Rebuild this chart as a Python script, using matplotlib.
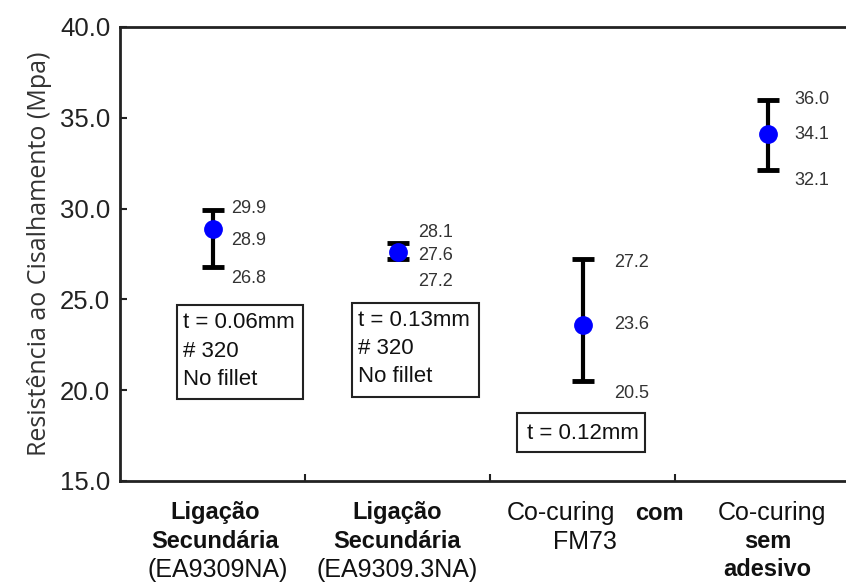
import matplotlib
matplotlib.use('Agg')
import matplotlib.pyplot as plt
from matplotlib.patches import Rectangle

# data
means = [28.9, 27.6, 23.6, 34.1]
upper = [29.9, 28.1, 27.2, 36.0]
lower = [26.8, 27.2, 20.5, 32.1]
y_ticks = [15.0, 20.0, 25.0, 30.0, 35.0, 40.0]
box_texts = ['t = 0.06mm\n# 320\nNo fillet',
             't = 0.13mm\n# 320\nNo fillet',
             't = 0.12mm']
category_lines = [
    [('Ligação', 'bold', 3), ('Secundária', 'bold', 3), ('(EA9309NA)', 'normal', 5)],
    [('Ligação', 'bold', 0), ('Secundária', 'bold', 0), ('(EA9309.3NA)', 'normal', 0)],
    [('Co-curing', 'normal', -22), ('FM73', 'normal', 2), None],
    [('Co-curing', 'normal', 4), ('sem', 'bold', 0), ('adesivo', 'bold', 0)],
]
y_label = 'Resistência ao Cisalhamento (Mpa)'

# layout (pixel offsets of the value labels: x, then top/mid/low y)
label_dx = [19, 21, 32, 27]
label_dy = [(2, -12, -12), (11, -3, -22), (-3, 0, -12), (0, 0, -10)]
line_dy = [-32, -61, -89]
boxes = [(-0.192, 19.50, 0.681, 5.18), (0.754, 19.61, 0.687, 5.18),
         (1.646, 16.58, 0.692, 2.15)]
text_pos = [(-0.159, 22.15, 'left'), (0.786, 22.31, 'left'), (2.0, 17.63, 'center')]

plt.rcParams['font.family'] = ['Liberation Sans', 'DejaVu Sans']

fig = plt.figure(figsize=(8.46, 5.83), dpi=100)
ax = fig.add_axes([120 / 846, 102 / 583, 726 / 846, 454 / 583])

x = list(range(len(means)))
yerr = [[m - lo for m, lo in zip(means, lower)], [u - m for m, u in zip(means, upper)]]
ax.errorbar(x, means, yerr=yerr, fmt='o', color='blue', ms=12.5, ecolor='black',
            elinewidth=3, capsize=8, capthick=3.5, zorder=3)

for i in x:
    vals = [upper[i], means[i], lower[i]]
    for v, dy in zip(vals, label_dy[i]):
        ax.annotate('%.1f' % v, xy=(i, v), xytext=(label_dx[i], dy),
                    textcoords='offset pixels', ha='left', va='center',
                    fontsize=13, color='#333333')

for (bx, by, bw, bh) in boxes:
    ax.add_patch(Rectangle((bx, by), bw, bh, fill=False, edgecolor='#222222', lw=1.5))
for txt, (tx, ty, ha) in zip(box_texts, text_pos):
    ax.text(tx, ty, txt, ha=ha, va='center', fontsize=16, linespacing=1.45,
            color='#111111')

ax.set_xlim(-0.5, 3.424)
ax.set_ylim(15, 40)
ax.set_yticks(y_ticks)
ax.set_yticklabels(['%.1f' % t for t in y_ticks])
ax.set_xticks([0.5, 1.5, 2.5])
ax.set_xticklabels([])
ax.tick_params(axis='both', direction='in', length=5, width=1.5, colors='#222222')
ax.tick_params(axis='y', labelsize=18.5, pad=7)
ax.spines['right'].set_visible(False)
for s in ['left', 'bottom', 'top']:
    ax.spines[s].set_linewidth(2)
    ax.spines[s].set_color('#222222')
ax.set_ylabel(y_label, fontsize=18, family=['Open Sans', 'DejaVu Sans'],
              color='#333333', labelpad=6)

xt = ax.get_xaxis_transform()
for i, lines in enumerate(category_lines):
    for line, dy in zip(lines, line_dy):
        if line is None:
            continue
        txt, weight, dx = line
        size = 17 if weight == 'bold' else 18
        ax.annotate(txt, xy=(i, 0), xycoords=xt, xytext=(dx, dy),
                    textcoords='offset pixels', ha='center', va='center',
                    fontsize=size, fontweight=weight, color='#111111',
                    annotation_clip=False)
ax.annotate('com', xy=(2, 0), xycoords=xt, xytext=(77, line_dy[0]),
            textcoords='offset pixels', ha='center', va='center',
            fontsize=17, fontweight='bold', color='#111111', annotation_clip=False)

fig.savefig('out.png', dpi=100)
